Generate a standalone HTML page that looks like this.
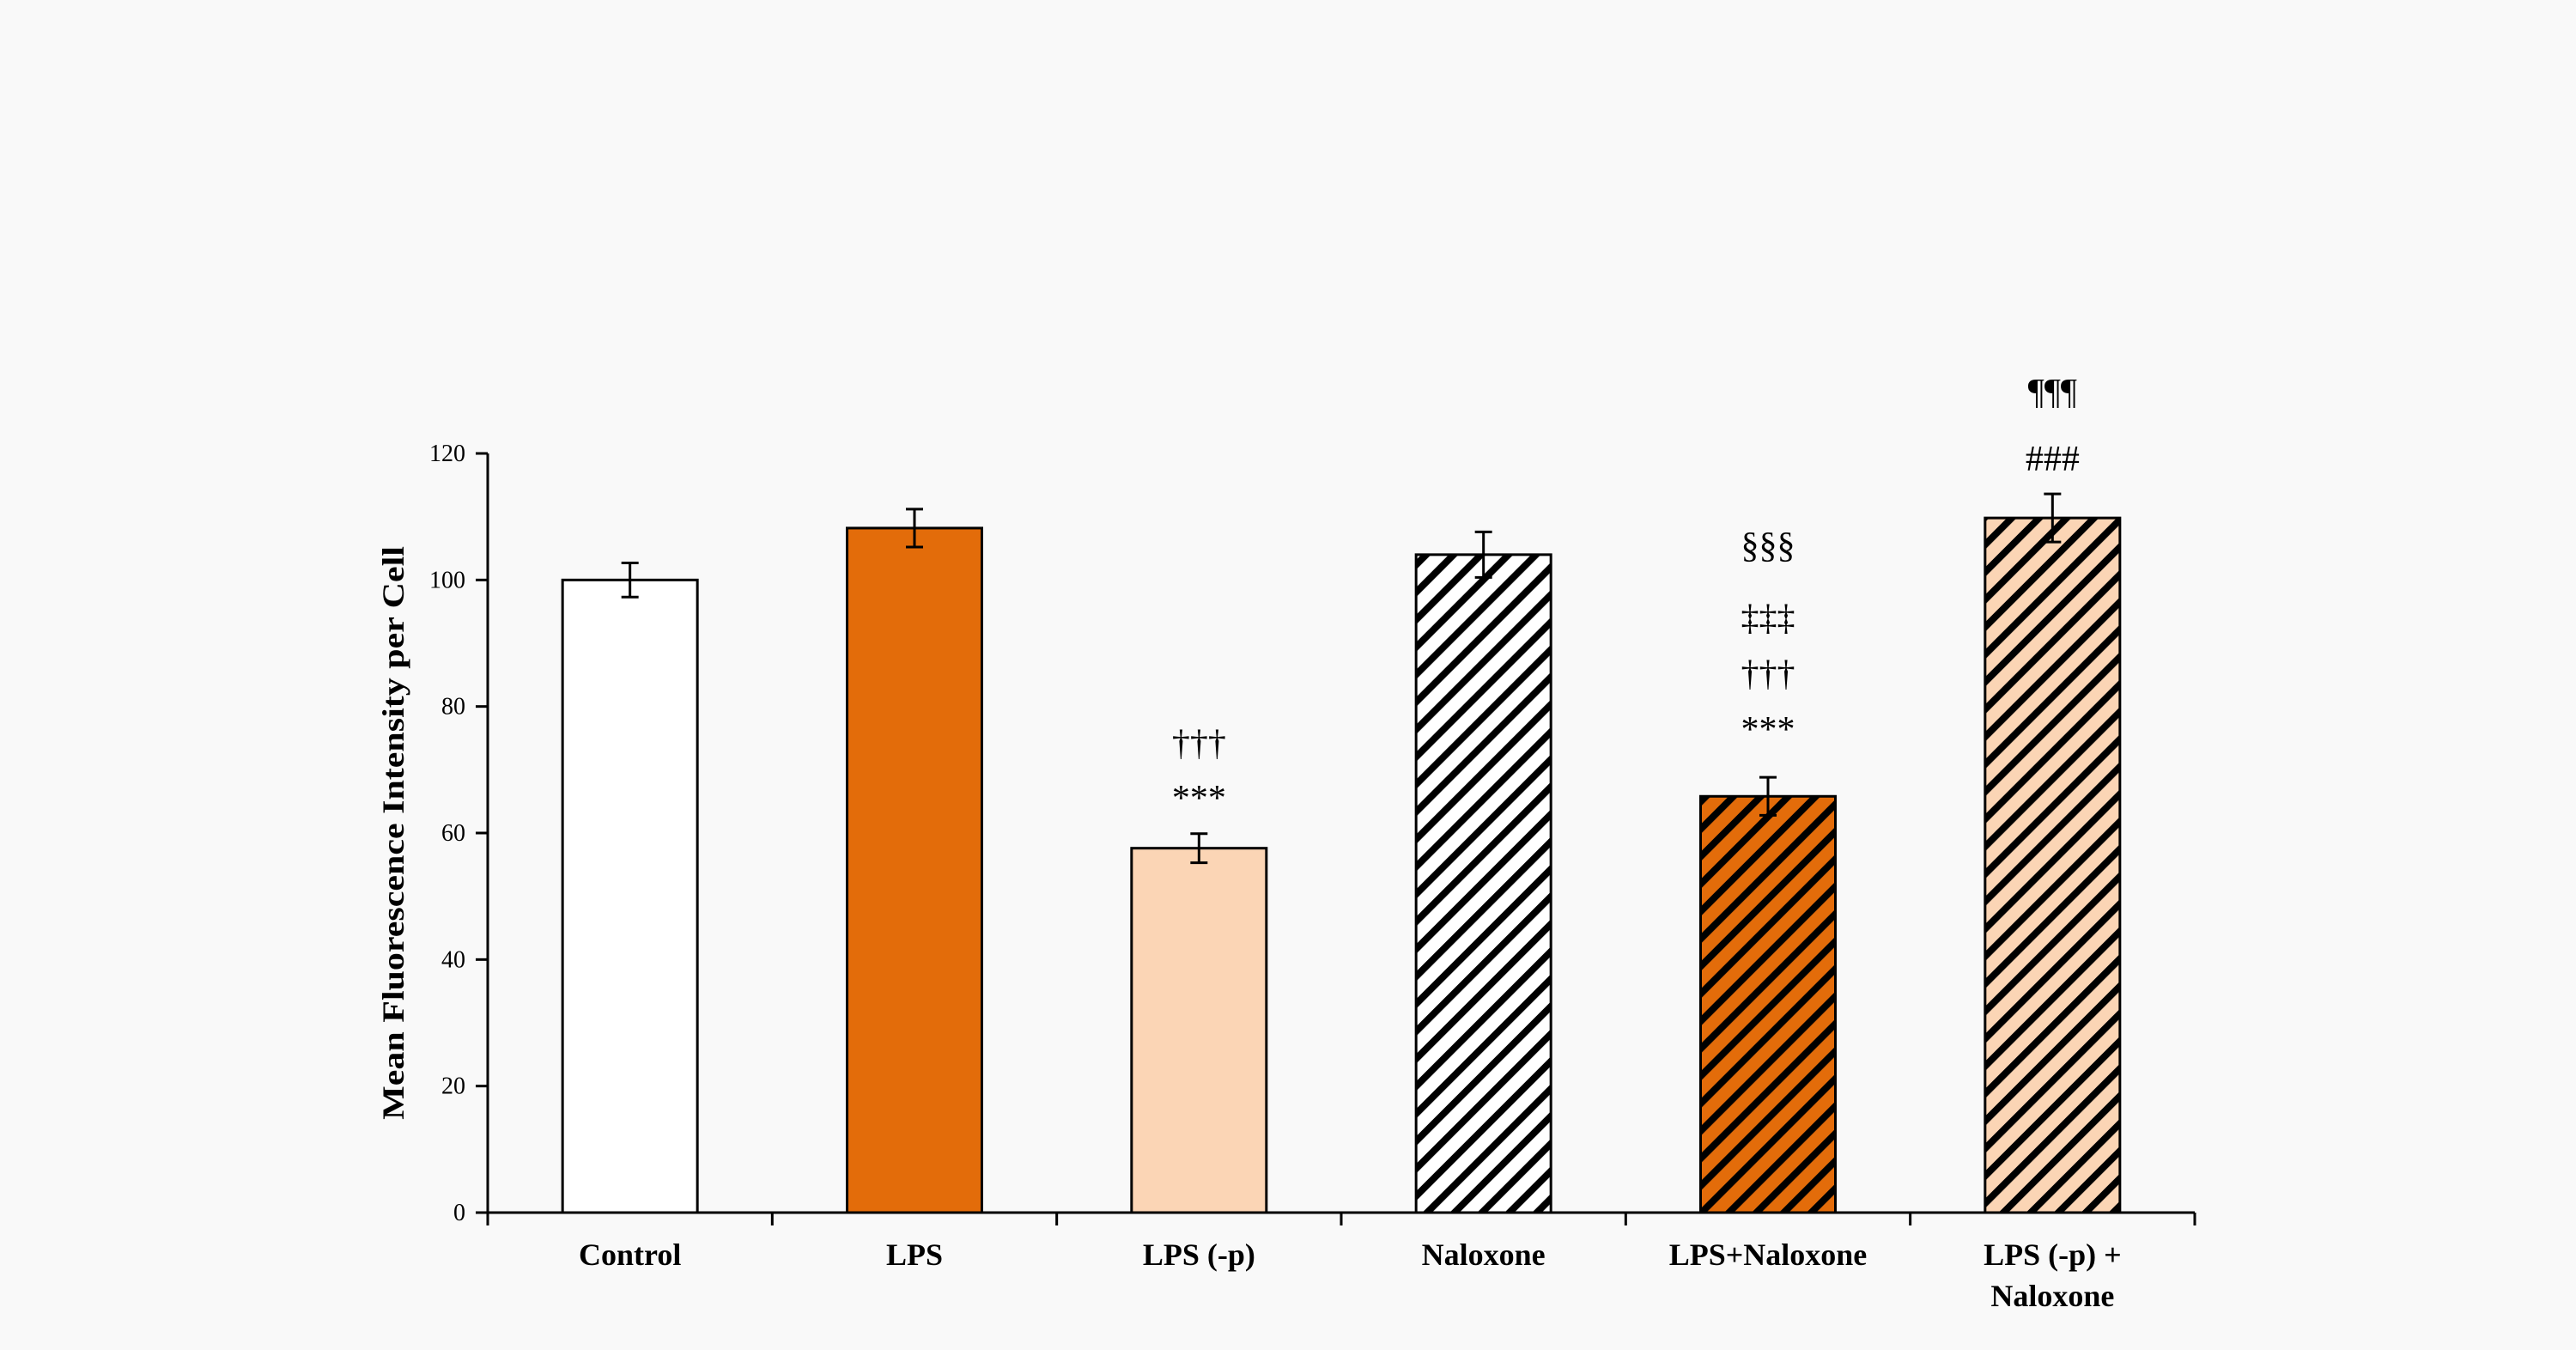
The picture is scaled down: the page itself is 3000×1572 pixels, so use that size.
<!DOCTYPE html>
<html><head><meta charset="utf-8"><style>
html,body{margin:0;padding:0;background:#f9f9f9;}
svg{display:block;}
text{font-family:"Liberation Serif",serif;}
</style></head><body>
<svg id="chart" width="3000" height="1572" viewBox="0 0 3000 1572" xmlns="http://www.w3.org/2000/svg">
<defs>
<pattern id="hw" patternUnits="userSpaceOnUse" width="22.6" height="22.6" patternTransform="rotate(45)"><rect width="22.6" height="22.6" fill="#ffffff"/><rect width="8" height="22.6" fill="#000"/></pattern>
<pattern id="ho" patternUnits="userSpaceOnUse" width="22.6" height="22.6" patternTransform="rotate(45)"><rect width="22.6" height="22.6" fill="#e36c0a"/><rect width="8" height="22.6" fill="#000"/></pattern>
<pattern id="hp" patternUnits="userSpaceOnUse" width="22.6" height="22.6" patternTransform="rotate(45)"><rect width="22.6" height="22.6" fill="#fbd5b5"/><rect width="8" height="22.6" fill="#000"/></pattern>
</defs>
<g id="g"></g>
</svg>
<script>
const categories = [["Control"],["LPS"],["LPS (-p)"],["Naloxone"],["LPS+Naloxone"],["LPS (-p) +","Naloxone"]];
const values = [100, 108.2, 57.6, 104, 65.8, 109.8];
const errors = [2.7, 3.0, 2.3, 3.6, 3.0, 3.8];
const fills = ["#ffffff","#e36c0a","#fbd5b5","url(#hw)","url(#ho)","url(#hp)"];
const yTicks = [0,20,40,60,80,100,120];
const annotations = [[],[],["***","†††"],[],["***","†††","‡‡‡","§§§"],["###","¶¶¶"]];
const annotationY = [[],[],[943,879],[],[863,798,733,649],[548,470]];

const NS="http://www.w3.org/2000/svg";
const g=document.getElementById('g');
const x0=568,x1=2556,yBase=1412,yTop=528,yMax=120;
const band=(x1-x0)/categories.length;
const yS=v=>yBase-(v/yMax)*(yBase-yTop);
const xC=i=>x0+band*(i+0.5);
function el(t,a,p){const e=document.createElementNS(NS,t);for(const k in a)e.setAttribute(k,a[k]);(p||g).appendChild(e);return e;}

const ya=el('line',{x1:x0,y1:yTop,x2:x0,y2:yBase,stroke:'#000','stroke-width':3});


yTicks.forEach(v=>{
  const tk=el('line',{x1:x0-14,y1:yS(v),x2:x0,y2:yS(v),stroke:'#000','stroke-width':3});
  
  
  const t=el('text',{x:x0-26,y:yS(v)+9,'text-anchor':'end','font-size':28});
  t.textContent=v;
  
  
});
const yt=el('text',{x:0,y:0,'text-anchor':'middle','font-size':42,'font-weight':'bold',transform:'translate(470,970) rotate(-90) scale(1,0.85)'});
yt.textContent='Mean Fluorescence Intensity per Cell';



values.forEach((v,i)=>{
  const bw=157,cx=xC(i);
  const r=el('rect',{x:cx-bw/2,y:yS(v),width:bw,height:yBase-yS(v),fill:fills[i],stroke:'#000','stroke-width':3});
  
  
  const e=errors[i];
  const eg=el('g',{stroke:'#000','stroke-width':3});
  
  
  el('line',{x1:cx,y1:yS(v+e),x2:cx,y2:yS(v-e)},eg);
  el('line',{x1:cx-10,y1:yS(v+e),x2:cx+10,y2:yS(v+e)},eg);
  el('line',{x1:cx-10,y1:yS(v-e),x2:cx+10,y2:yS(v-e)},eg);
  annotations[i].forEach((s,j)=>{
    const a=el('text',{x:cx,y:annotationY[i][j],'text-anchor':'middle','font-size':42});
    a.textContent=s;
    
    
  });
  categories[i].forEach((line,j)=>{
    const t=el('text',{x:cx,y:1473+j*48,'text-anchor':'middle','font-size':36,'font-weight':'bold'});
    t.textContent=line;
    
    
  });
});
const xa=el('line',{x1:x0,y1:yBase,x2:x1,y2:yBase,stroke:'#000','stroke-width':3});


for(let i=0;i<=categories.length;i++){
  const tk=el('line',{x1:x0+band*i,y1:yBase,x2:x0+band*i,y2:yBase+15,stroke:'#000','stroke-width':3});
  
  
}
</script>
</body></html>
